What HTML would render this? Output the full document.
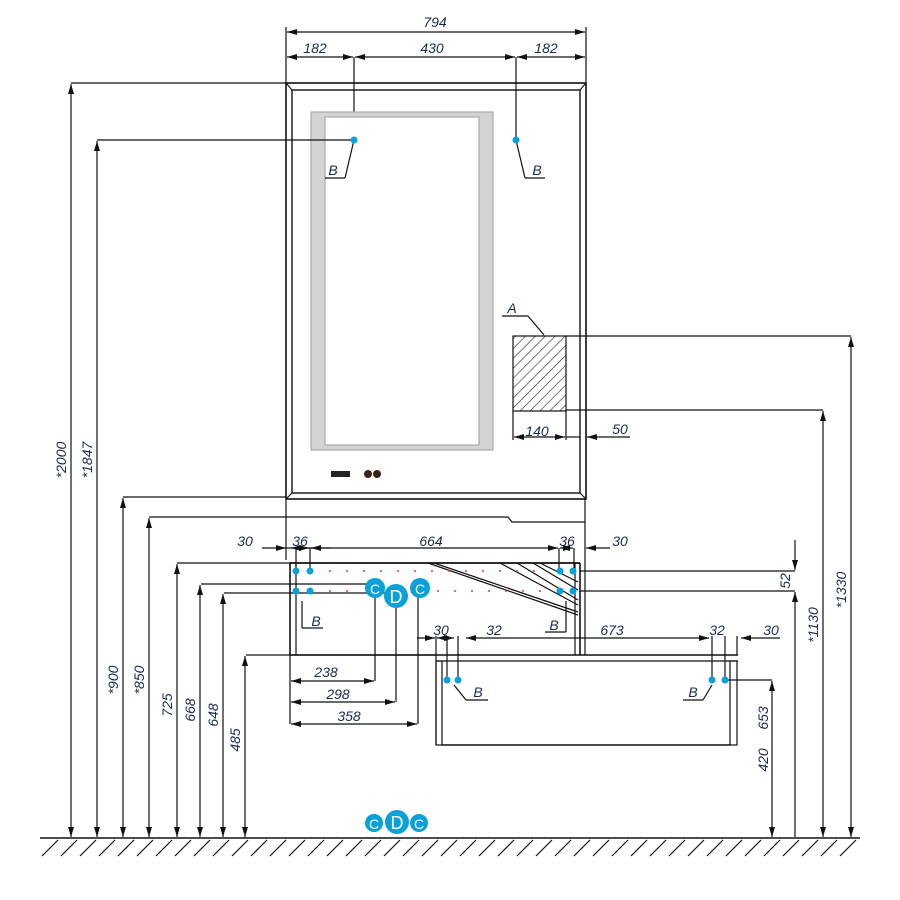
<!DOCTYPE html>
<html><head><meta charset="utf-8"><style>
html,body{margin:0;padding:0;background:#fff}
svg{display:block}
text{font-family:"Liberation Sans",sans-serif;font-style:italic;font-size:14px;fill:#1a2a50}
</style></head><body>
<svg width="900" height="900" viewBox="0 0 900 900" xmlns="http://www.w3.org/2000/svg">
<defs>
<marker id="a" viewBox="0 0 10 6" refX="10" refY="3" markerWidth="10" markerHeight="6" orient="auto-start-reverse" markerUnits="userSpaceOnUse"><path d="M0,0 L10,3 L0,6z" fill="#111"/></marker>
<pattern id="h" width="7" height="7" patternUnits="userSpaceOnUse" patternTransform="rotate(45)"><line x1="0" y1="0" x2="0" y2="7" stroke="#222" stroke-width="1.2"/></pattern>
</defs>
<g stroke="#111" stroke-width="1.2" fill="none">
<!-- top dims -->
<line x1="286" y1="27" x2="286" y2="85"/><line x1="586" y1="27" x2="586" y2="85"/>
<line x1="287" y1="32" x2="585" y2="32" marker-start="url(#a)" marker-end="url(#a)"/>
<line x1="287" y1="57" x2="353" y2="57" marker-start="url(#a)" marker-end="url(#a)"/>
<line x1="355" y1="57" x2="515" y2="57" marker-start="url(#a)" marker-end="url(#a)"/>
<line x1="517" y1="57" x2="585" y2="57" marker-start="url(#a)" marker-end="url(#a)"/>
<line x1="354" y1="57" x2="354" y2="140"/><line x1="516" y1="57" x2="516" y2="140"/>
<!-- mirror -->
<rect x="286" y="83" width="300" height="416" stroke-width="1.6"/>
<rect x="292" y="90" width="288" height="403" stroke-width="1.4"/>
<line x1="286" y1="83" x2="292" y2="90"/><line x1="586" y1="83" x2="580" y2="90"/>
<line x1="286" y1="499" x2="292" y2="493"/><line x1="586" y1="499" x2="580" y2="493"/>
<rect x="311" y="112" width="182" height="338" fill="#d4d4d4" stroke="#aaa"/>
<rect x="325" y="117" width="154" height="328" fill="#fff" stroke="#aaa"/>
<rect x="331" y="471" width="19" height="6" fill="#222" stroke="none"/>
<circle cx="368" cy="474" r="4" fill="#3a2418" stroke="none"/><circle cx="377" cy="474" r="4" fill="#3a2418" stroke="none"/>
<!-- B leaders top -->
<line x1="354" y1="140" x2="345" y2="178"/><line x1="345" y1="178" x2="325" y2="178"/>
<line x1="516" y1="140" x2="525" y2="178"/><line x1="525" y1="178" x2="545" y2="178"/>
<!-- hatched box -->
<rect x="513" y="336" width="53" height="75" fill="url(#h)"/>
<line x1="513" y1="411" x2="513" y2="440"/><line x1="566" y1="411" x2="566" y2="440"/>
<line x1="514" y1="437" x2="565" y2="437" marker-start="url(#a)" marker-end="url(#a)"/>
<line x1="566" y1="437" x2="580" y2="437"/><line x1="587" y1="437" x2="630" y2="437" marker-start="url(#a)"/>
<line x1="502" y1="316" x2="528" y2="316"/><line x1="528" y1="316" x2="544" y2="335"/>
<line x1="566" y1="336" x2="851" y2="336"/><line x1="566" y1="410" x2="823" y2="410"/>
<line x1="585" y1="499" x2="585" y2="655"/>
<!-- left dim lines -->
<line x1="71" y1="83" x2="286" y2="83"/><line x1="97" y1="140" x2="354" y2="140"/>
<line x1="123" y1="497" x2="286" y2="497"/>
<path d="M149,517 H508 L512,522 H585"/>
<line x1="177" y1="563" x2="292" y2="563"/>
<line x1="201" y1="584" x2="372" y2="584"/>
<line x1="224" y1="593" x2="390" y2="593"/>
<line x1="246" y1="655" x2="436" y2="655"/>
<g marker-start="url(#a)" marker-end="url(#a)">
<line x1="71" y1="84" x2="71" y2="837"/><line x1="97" y1="141" x2="97" y2="837"/>
<line x1="123" y1="498" x2="123" y2="837"/><line x1="149" y1="518" x2="149" y2="837"/>
<line x1="177" y1="564" x2="177" y2="837"/><line x1="200" y1="585" x2="200" y2="837"/>
<line x1="223" y1="594" x2="223" y2="837"/><line x1="245" y1="656" x2="245" y2="837"/>
<line x1="851" y1="337" x2="851" y2="837"/><line x1="823" y1="411" x2="823" y2="837"/>
<line x1="772" y1="681" x2="772" y2="837"/>
</g>
<line x1="795" y1="540" x2="795" y2="570" marker-end="url(#a)"/>
<line x1="795" y1="837" x2="795" y2="592" marker-end="url(#a)"/>
<!-- cabinet -->
<line x1="286" y1="499" x2="286" y2="560"/>
<line x1="286" y1="548" x2="330" y2="548"/><line x1="262" y1="548" x2="286" y2="548" marker-end="url(#a)"/>
<line x1="291" y1="548" x2="309" y2="548" marker-start="url(#a)" marker-end="url(#a)"/>
<line x1="311" y1="548" x2="558" y2="548" marker-start="url(#a)" marker-end="url(#a)"/>
<line x1="560" y1="548" x2="573" y2="548" marker-start="url(#a)" marker-end="url(#a)"/>
<line x1="586" y1="548" x2="610" y2="548" marker-start="url(#a)"/>
<line x1="296" y1="548" x2="296" y2="568"/><line x1="310" y1="548" x2="310" y2="568"/>
<line x1="559" y1="548" x2="559" y2="568"/><line x1="574" y1="548" x2="574" y2="568"/>
<rect x="286" y="563" width="300" height="92" stroke-width="1.6" stroke="none"/>
<line x1="290" y1="563" x2="580" y2="563" stroke-width="1.8"/>
<line x1="290" y1="563" x2="290" y2="655" stroke-width="1.6"/><line x1="296" y1="563" x2="296" y2="655"/>
<line x1="575" y1="563" x2="575" y2="655"/><line x1="580" y1="563" x2="580" y2="655" stroke-width="1.6"/>
<line x1="580" y1="571" x2="795" y2="571"/><line x1="580" y1="591" x2="795" y2="591"/>
<line x1="290" y1="655" x2="738" y2="655" stroke-width="1.6"/>
<line x1="428" y1="563" x2="578" y2="615"/><line x1="434" y1="563" x2="578" y2="612"/>
<line x1="500" y1="563" x2="578" y2="605"/><line x1="517" y1="563" x2="578" y2="600"/>
<line x1="533" y1="563" x2="578" y2="590"/><line x1="540" y1="563" x2="578" y2="582"/>
<line x1="302" y1="601" x2="302" y2="628"/><line x1="302" y1="628" x2="323" y2="628"/>
<line x1="566" y1="601" x2="566" y2="632"/><line x1="566" y1="632" x2="545" y2="632"/>
<!-- drawer -->
<line x1="436" y1="655" x2="436" y2="745"/>
<line x1="436" y1="661" x2="738" y2="661"/>
<rect x="436" y="661" width="6" height="84"/><rect x="730" y="661" width="7" height="84"/>
<line x1="442" y1="745" x2="730" y2="745" stroke-width="1.6"/>
<line x1="417" y1="638" x2="435" y2="638" marker-end="url(#a)"/>
<line x1="437" y1="638" x2="454" y2="638" marker-start="url(#a)" marker-end="url(#a)"/>
<line x1="466" y1="638" x2="709" y2="638" marker-start="url(#a)" marker-end="url(#a)"/>
<line x1="741" y1="638" x2="780" y2="638" marker-start="url(#a)"/>
<line x1="436" y1="636" x2="436" y2="655"/><line x1="447" y1="636" x2="447" y2="680"/>
<line x1="458" y1="636" x2="458" y2="680"/><line x1="712" y1="636" x2="712" y2="680"/>
<line x1="725" y1="636" x2="725" y2="680"/><line x1="737" y1="636" x2="737" y2="655"/>
<line x1="725" y1="680" x2="772" y2="680"/>
<line x1="454" y1="685" x2="466" y2="700"/><line x1="466" y1="700" x2="488" y2="700"/>
<line x1="712" y1="685" x2="703" y2="700"/><line x1="703" y1="700" x2="683" y2="700"/>
<!-- bottom left dims -->
<line x1="375" y1="593" x2="375" y2="681"/><line x1="396" y1="605" x2="396" y2="702"/><line x1="418" y1="596" x2="418" y2="724"/>
<line x1="290" y1="655" x2="290" y2="724"/>
<line x1="291" y1="681" x2="374" y2="681" marker-start="url(#a)" marker-end="url(#a)"/>
<line x1="291" y1="702" x2="395" y2="702" marker-start="url(#a)" marker-end="url(#a)"/>
<line x1="291" y1="724" x2="417" y2="724" marker-start="url(#a)" marker-end="url(#a)"/>
<!-- ground -->
<line x1="40" y1="838" x2="860" y2="838" stroke-width="1.6"/>
<path d="M58,840 l-16,16 M77,840 l-16,16 M96,840 l-16,16 M115,840 l-16,16 M134,840 l-16,16 M153,840 l-16,16 M172,840 l-16,16 M191,840 l-16,16 M210,840 l-16,16 M229,840 l-16,16 M248,840 l-16,16 M267,840 l-16,16 M286,840 l-16,16 M305,840 l-16,16 M324,840 l-16,16 M343,840 l-16,16 M362,840 l-16,16 M381,840 l-16,16 M400,840 l-16,16 M419,840 l-16,16 M438,840 l-16,16 M457,840 l-16,16 M476,840 l-16,16 M495,840 l-16,16 M514,840 l-16,16 M533,840 l-16,16 M552,840 l-16,16 M571,840 l-16,16 M590,840 l-16,16 M609,840 l-16,16 M628,840 l-16,16 M647,840 l-16,16 M666,840 l-16,16 M685,840 l-16,16 M704,840 l-16,16 M723,840 l-16,16 M742,840 l-16,16 M761,840 l-16,16 M780,840 l-16,16 M799,840 l-16,16 M818,840 l-16,16 M837,840 l-16,16 M856,840 l-16,16"/>
</g>
<!-- red dots -->
<g fill="#e04040">
<circle cx="330" cy="571" r="1"/><circle cx="347" cy="571" r="1"/><circle cx="364" cy="571" r="1"/><circle cx="381" cy="571" r="1"/><circle cx="398" cy="571" r="1"/><circle cx="415" cy="571" r="1"/><circle cx="432" cy="571" r="1"/><circle cx="449" cy="571" r="1"/><circle cx="466" cy="571" r="1"/><circle cx="483" cy="571" r="1"/><circle cx="500" cy="571" r="1"/><circle cx="517" cy="571" r="1"/><circle cx="534" cy="571" r="1"/>
<circle cx="330" cy="591" r="1"/><circle cx="347" cy="591" r="1"/><circle cx="438" cy="591" r="1"/><circle cx="455" cy="591" r="1"/><circle cx="472" cy="591" r="1"/><circle cx="489" cy="591" r="1"/><circle cx="506" cy="591" r="1"/><circle cx="523" cy="591" r="1"/><circle cx="540" cy="591" r="1"/>
</g>
<!-- blue dots -->
<g fill="#0aa0d8">
<circle cx="354" cy="140" r="3.5"/><circle cx="516" cy="140" r="3.5"/>
<circle cx="296" cy="571" r="3.5"/><circle cx="310" cy="571" r="3.5"/><circle cx="560" cy="571" r="3.5"/><circle cx="573" cy="571" r="3.5"/>
<circle cx="296" cy="591" r="3.5"/><circle cx="310" cy="591" r="3.5"/><circle cx="560" cy="591" r="3.5"/><circle cx="573" cy="591" r="3.5"/>
<circle cx="447" cy="680" r="3.5"/><circle cx="458" cy="680" r="3.5"/><circle cx="712" cy="680" r="3.5"/><circle cx="725" cy="680" r="3.5"/>
<circle cx="375" cy="588" r="10"/><circle cx="396" cy="596" r="12"/><circle cx="420" cy="588" r="10"/>
<circle cx="374" cy="823" r="9"/><circle cx="397" cy="822" r="12"/><circle cx="419" cy="823" r="9"/>
</g>
<g style="font-style:normal;fill:#fff;font-size:15px" text-anchor="middle">
<text x="375" y="594" style="fill:#fff;font-style:normal">C</text><text x="396" y="603" style="fill:#fff;font-style:normal;font-size:18px">D</text><text x="420" y="594" style="fill:#fff;font-style:normal">C</text>
<text x="374" y="829" style="fill:#fff;font-style:normal">C</text><text x="397" y="829" style="fill:#fff;font-style:normal;font-size:18px">D</text><text x="419" y="829" style="fill:#fff;font-style:normal">C</text>
</g>
<!-- labels -->
<g text-anchor="middle">
<text x="435" y="27">794</text><text x="315" y="53">182</text><text x="432" y="53">430</text><text x="546" y="53">182</text>
<text x="333" y="175">B</text><text x="537" y="175">B</text><text x="512" y="313">A</text>
<text x="537" y="436">140</text><text x="620" y="434">50</text>
<text x="245" y="546">30</text><text x="300" y="546">36</text><text x="431" y="546">664</text><text x="567" y="546">36</text><text x="620" y="546">30</text>
<text x="316" y="626">B</text><text x="554" y="630">B</text>
<text x="441" y="635">30</text><text x="494" y="635">32</text><text x="612" y="635">673</text><text x="717" y="635">32</text><text x="771" y="635">30</text>
<text x="478" y="697">B</text><text x="693" y="697">B</text>
<text x="326" y="677">238</text><text x="338" y="699">298</text><text x="349" y="721">358</text>
</g>
<g text-anchor="middle">
<text transform="translate(66,460) rotate(-90)">*2000</text>
<text transform="translate(92,460) rotate(-90)">*1847</text>
<text transform="translate(118,680) rotate(-90)">*900</text>
<text transform="translate(144,680) rotate(-90)">*850</text>
<text transform="translate(172,705) rotate(-90)">725</text>
<text transform="translate(195,710) rotate(-90)">668</text>
<text transform="translate(218,715) rotate(-90)">648</text>
<text transform="translate(240,740) rotate(-90)">485</text>
<text transform="translate(790,581) rotate(-90)">52</text>
<text transform="translate(818,625) rotate(-90)">*1130</text>
<text transform="translate(846,590) rotate(-90)">*1330</text>
<text transform="translate(768,718) rotate(-90)">653</text>
<text transform="translate(768,760) rotate(-90)">420</text>
</g>
</svg>
</body></html>
